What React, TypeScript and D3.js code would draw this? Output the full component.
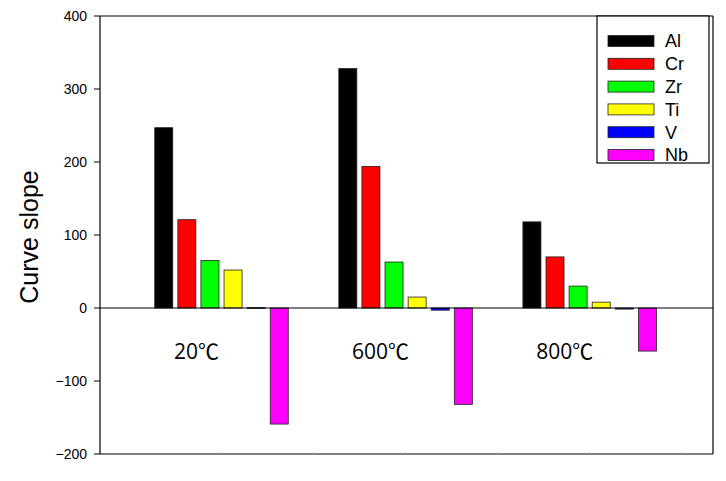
import React from "react";
import * as d3 from "d3";

const categories = ["20℃", "600℃", "800℃"];
const series = ["Al", "Cr", "Zr", "Ti", "V", "Nb"];
const colors = ["#000000", "#ff0000", "#00ff00", "#ffff00", "#0000ff", "#ff00ff"];
const valuesAl = [247, 328, 118];
const valuesCr = [121, 194, 70];
const valuesZr = [65, 63, 30];
const valuesTi = [52, 15, 8];
const valuesV = [0.5, -3, -1.5];
const valuesNb = [-159, -132, -59];
const yTicks = [-200, -100, 0, 100, 200, 300, 400];

const seriesValues = [valuesAl, valuesCr, valuesZr, valuesTi, valuesV, valuesNb];

export default function App() {
  const W = 726, H = 481;
  const left = 100, right = 713, top = 16, bottom = 454;
  const x = d3.scaleLinear().domain([0.34, 3.67]).range([left, right]);
  const y = d3.scaleLinear().domain([-200, 400]).range([bottom, top]);
  const inner = d3.scaleBand<string>().domain(series).range([-69.3, 69.3]).paddingInner(0.22).paddingOuter(0.11);
  const minorTicks = d3.range(1, 3.6, 0.5);
  const font = "Arial, 'Liberation Sans', sans-serif";

  return (
    <svg width={W} height={H} style={{ position: "absolute", left: 0, top: 0, background: "#fff" }}>
      <rect x={0} y={0} width={W} height={H} fill="#fff" />
      {categories.map((c, ci) => (
        <g key={c}>
          {series.map((s, si) => {
            const v = seriesValues[si][ci];
            const x0 = x(ci + 1) + (inner(s) as number);
            const y0 = y(Math.max(0, v));
            const h = Math.abs(y(v) - y(0));
            return (
              <rect key={s} x={x0} y={y0} width={inner.bandwidth()} height={Math.max(h, 0.8)}
                fill={colors[si]} stroke="#222" strokeWidth={0.8} />
            );
          })}
        </g>
      ))}
      <line x1={left} x2={right} y1={y(0)} y2={y(0)} stroke="#000" strokeWidth={1} />
      <line x1={left} x2={right} y1={top} y2={top} stroke="#000" strokeWidth={1.2} />
      <line x1={right} x2={right} y1={top} y2={bottom} stroke="#000" strokeWidth={1.2} />
      <line x1={left} x2={right} y1={bottom} y2={bottom} stroke="#000" strokeWidth={1.2} />
      <line x1={left} x2={left} y1={top} y2={bottom} stroke="#000" strokeWidth={1.2} />
      {yTicks.map((t) => (
        <g key={t}>
          <line x1={left - 6} x2={left} y1={y(t)} y2={y(t)} stroke="#000" strokeWidth={1} />
          <text x={left - 13} y={y(t)} dy="0.35em" textAnchor="end" fontFamily={font} fontSize={14} fill="#000">
            {t < 0 ? "\u2212" + Math.abs(t) : t}
          </text>
        </g>
      ))}
      {minorTicks.map((t) => (
        <line key={t} x1={x(t)} x2={x(t)} y1={bottom} y2={bottom - 2} stroke="#bbb" strokeWidth={1} />
      ))}
      {categories.map((c, ci) => (
        <text key={c} x={x(ci + 1) - 25} y={359} textAnchor="middle"
          fontFamily="'Open Sans', 'Noto Sans CJK SC', sans-serif" fontSize={21} fill="#000">
          {c}
        </text>
      ))}
      <text transform={`translate(38,${(top + bottom) / 2 + 2}) rotate(-90)`} textAnchor="middle"
        fontFamily={font} fontSize={25} fill="#000">Curve slope</text>
      <rect x={597} y={16} width={112} height={147} fill="#fff" stroke="#000" strokeWidth={1.2} />
      {series.map((s, si) => {
        const ly = 41 + si * 22.8;
        return (
          <g key={s}>
            <rect x={608} y={ly - 5.5} width={46} height={11} fill={colors[si]} stroke="#222" strokeWidth={0.8} />
            <text x={665} y={ly} dy="0.36em" fontFamily={font} fontSize={18} fill="#000">{s}</text>
          </g>
        );
      })}
    </svg>
  );
}
